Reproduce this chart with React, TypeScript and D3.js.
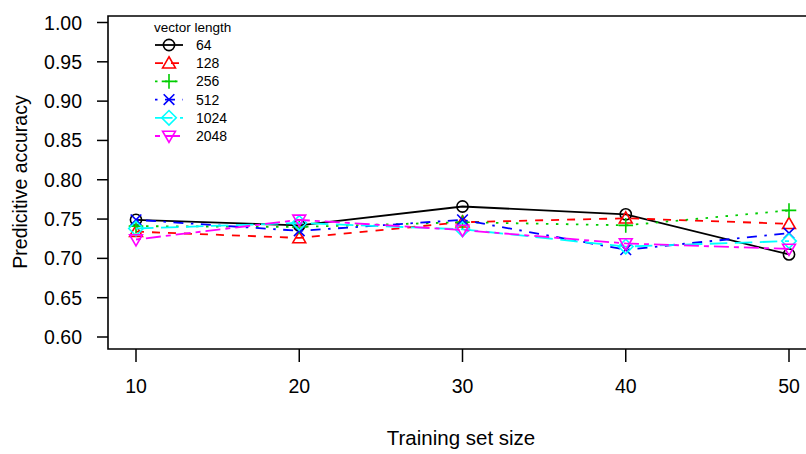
import React from "react";
import * as d3 from "d3";

const trainingSizes = [10, 20, 30, 40, 50];
const vectorLengths = ["64", "128", "256", "512", "1024", "2048"];
const acc64 = [0.749, 0.742, 0.766, 0.756, 0.705];
const acc128 = [0.734, 0.726, 0.746, 0.751, 0.744];
const acc256 = [0.741, 0.740, 0.746, 0.742, 0.761];
const acc512 = [0.749, 0.735, 0.749, 0.711, 0.732];
const acc1024 = [0.738, 0.745, 0.737, 0.715, 0.722];
const acc2048 = [0.724, 0.749, 0.736, 0.719, 0.712];
const seriesValues = [acc64, acc128, acc256, acc512, acc1024, acc2048];
const yTicks = [0.6, 0.65, 0.7, 0.75, 0.8, 0.85, 0.9, 0.95, 1.0];

const colors = ["#000000", "#FF0000", "#00CD00", "#0000FF", "#00FFFF", "#FF00FF"];
const dashes = ["none", "8,8", "2.5,7.5", "2.5,7.5,10,7.5", "17.5,7.5", "5,5,15,5"];
const shapes = ["circle", "triangle", "plus", "cross", "diamond", "triangleDown"];

const W = 806, H = 454;
const x = d3.scaleLinear().domain([10, 50]).range([136, 789]);
const y = d3.scaleLinear().domain([0.6, 1.0]).range([337, 22.5]);
const FONT = "Liberation Sans, Arial, sans-serif";

function Marker({ shape, cx, cy, color }: { shape: string; cx: number; cy: number; color: string }) {
  const r = 5.6;
  const sw = 1.6;
  if (shape === "circle") return <circle cx={cx} cy={cy} r={r} fill="none" stroke={color} strokeWidth={sw} />;
  if (shape === "triangle") {
    const h = r;
    return <path d={`M${cx},${cy - h * 1.15} L${cx + h * 1.15},${cy + h * 0.85} L${cx - h * 1.15},${cy + h * 0.85} Z`} fill="none" stroke={color} strokeWidth={sw} />;
  }
  if (shape === "triangleDown") {
    const h = r;
    return <path d={`M${cx},${cy + h * 1.15} L${cx + h * 1.15},${cy - h * 0.85} L${cx - h * 1.15},${cy - h * 0.85} Z`} fill="none" stroke={color} strokeWidth={sw} />;
  }
  if (shape === "plus") {
    const s = r * 1.3;
    return <path d={`M${cx - s},${cy} L${cx + s},${cy} M${cx},${cy - s} L${cx},${cy + s}`} stroke={color} strokeWidth={sw} />;
  }
  if (shape === "cross") {
    const s = r * 0.95;
    return <path d={`M${cx - s},${cy - s} L${cx + s},${cy + s} M${cx - s},${cy + s} L${cx + s},${cy - s}`} stroke={color} strokeWidth={sw} />;
  }
  const s = r * 1.3;
  return <path d={`M${cx},${cy - s} L${cx + s},${cy} L${cx},${cy + s} L${cx - s},${cy} Z`} fill="none" stroke={color} strokeWidth={sw} />;
}

export default function App() {
  const line = d3.line<number>().x((_, i) => x(trainingSizes[i])).y((d) => y(d));
  const boxLeft = 108, boxTop = 16, boxBottom = 349, boxRight = 815;
  return (
    <svg width={W} height={H} style={{ position: "absolute", left: 0, top: 0, background: "#fff" }}>
      <rect x={0} y={0} width={W} height={H} fill="#fff" />
      <path d={`M${boxRight},${boxTop} L${boxLeft},${boxTop} L${boxLeft},${boxBottom} L${boxRight},${boxBottom}`} fill="none" stroke="#000" strokeWidth={1.6} />
      {yTicks.map((t) => (
        <g key={t}>
          <line x1={boxLeft - 11} x2={boxLeft} y1={y(t)} y2={y(t)} stroke="#000" strokeWidth={1.5} />
          <text x={82} y={y(t)} dy="0.36em" textAnchor="end" fontFamily={FONT} fontSize={19.5}>{t.toFixed(2)}</text>
        </g>
      ))}
      {trainingSizes.map((t) => (
        <g key={t}>
          <line x1={x(t)} x2={x(t)} y1={boxBottom} y2={boxBottom + 13} stroke="#000" strokeWidth={1.5} />
          <text x={x(t)} y={393} textAnchor="middle" fontFamily={FONT} fontSize={19.5}>{t}</text>
        </g>
      ))}
      <text x={461} y={445} textAnchor="middle" fontFamily={FONT} fontSize={20.5}>Training set size</text>
      <text transform={`translate(27,182) rotate(-90)`} textAnchor="middle" fontFamily={FONT} fontSize={19.5}>Predicitive accuracy</text>
      {seriesValues.map((vals, si) => (
        <g key={si}>
          <path d={line(vals) || ""} fill="none" stroke={colors[si]} strokeWidth={1.8} strokeDasharray={dashes[si]} />
          {vals.map((v, i) => (
            <Marker key={i} shape={shapes[si]} cx={x(trainingSizes[i])} cy={y(v)} color={colors[si]} />
          ))}
        </g>
      ))}
      <text x={154} y={32} fontFamily={FONT} fontSize={13.5}>vector length</text>
      {vectorLengths.map((name, i) => {
        const ly = 45 + i * 18.2;
        return (
          <g key={name}>
            <line x1={155} x2={183} y1={ly} y2={ly} stroke={colors[i]} strokeWidth={1.8} strokeDasharray={dashes[i]} />
            <Marker shape={shapes[i]} cx={169} cy={ly} color={colors[i]} />
            <text x={196} y={ly} dy="0.36em" fontFamily={FONT} fontSize={14}>{name}</text>
          </g>
        );
      })}
    </svg>
  );
}
